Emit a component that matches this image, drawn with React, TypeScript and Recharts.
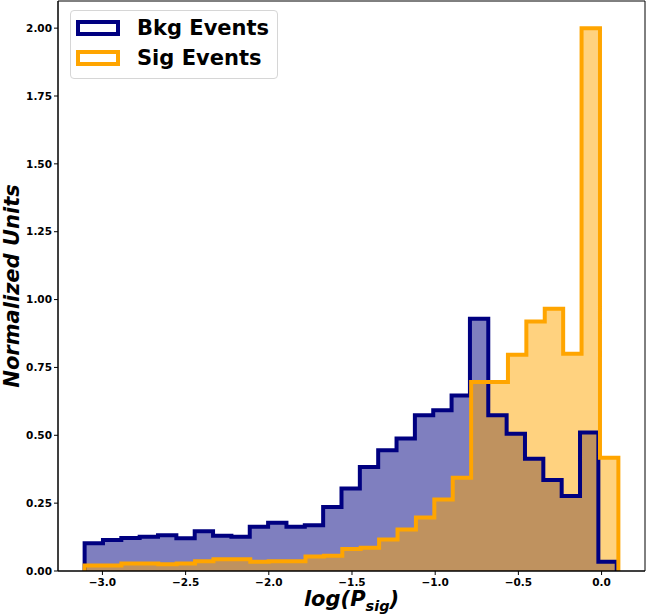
import React from 'react';
import {
  ComposedChart, Area, XAxis, YAxis, Legend, ReferenceArea,
} from 'recharts';

// histogram bin heights (29 bins each)
const BKG_VALUES = [
  0.102, 0.114, 0.122, 0.126, 0.132, 0.121, 0.146, 0.13, 0.126, 0.163,
  0.178, 0.163, 0.169, 0.236, 0.304, 0.383, 0.445, 0.488, 0.574, 0.592,
  0.647, 0.929, 0.574, 0.506, 0.414, 0.335, 0.276, 0.51, 0.034,
];
const SIG_VALUES = [
  0.02, 0.02, 0.028, 0.028, 0.025, 0.028, 0.036, 0.043, 0.043, 0.034,
  0.036, 0.036, 0.053, 0.056, 0.081, 0.086, 0.116, 0.153, 0.197, 0.263,
  0.344, 0.696, 0.696, 0.797, 0.919, 0.966, 0.8, 2.0, 0.417,
];
const BKG_RANGE = [-3.107, 0.091];
const SIG_RANGE = [-3.107, 0.101];

const X_TICKS = [-3, -2.5, -2, -1.5, -1, -0.5, 0];
const Y_TICKS = [0, 0.25, 0.5, 0.75, 1, 1.25, 1.5, 1.75, 2];
const X_DOMAIN = [-3.267, 0.261];
const Y_DOMAIN = [0, 2.1];

const SERIES = [
  { name: 'Bkg Events', color: '#000080' },
  { name: 'Sig Events', color: '#FFA500' },
];

const FONT = '"DejaVu Sans", sans-serif';

// turn bin heights into a closed step outline (drops to 0 at both ends)
function toSteps(values: number[], range: number[]) {
  const [lo, hi] = range;
  const w = (hi - lo) / values.length;
  const pts: { x: number; y: number }[] = [{ x: lo, y: 0 }];
  values.forEach((v, i) => pts.push({ x: lo + i * w, y: v }));
  pts.push({ x: hi, y: values[values.length - 1] });
  pts.push({ x: hi, y: 0 });
  return pts;
}

const bkgSteps = toSteps(BKG_VALUES, BKG_RANGE);
const sigSteps = toSteps(SIG_VALUES, SIG_RANGE);

const fmtX = (v: number) => v.toFixed(1).replace('-', '\u2212');
const fmtY = (v: number) => v.toFixed(2);

const tickStyle = { fontFamily: FONT, fontWeight: 'bold', fontSize: 10.5, fill: '#000' };

const XLabel = (props: any) => {
  const { viewBox } = props;
  const cx = viewBox.x + viewBox.width / 2;
  return (
    <text x={cx} y={606} textAnchor="middle" fontFamily={FONT} fontWeight="bold"
      fontStyle="italic" fontSize={21} fill="#000">
      log(P<tspan dy={5} fontSize={14.5}>sig</tspan><tspan dy={-5}>)</tspan>
    </text>
  );
};

const YLabel = () => (
  <text x={19} y={286} transform="rotate(-90 19 286)" textAnchor="middle" fontFamily={FONT}
    fontWeight="bold" fontStyle="italic" fontSize={21} fill="#000">
    Normalized Units
  </text>
);

const LegendBox = () => (
  <div style={{
    border: '1px solid #d6d6d6', borderRadius: 4, background: 'rgba(255,255,255,0.8)',
    padding: '2px 8px 5px 5px', fontFamily: FONT, fontWeight: 'bold', fontSize: 21,
  }}>
    {SERIES.map((s) => (
      <div key={s.name} style={{ display: 'flex', alignItems: 'center', height: 30 }}>
        <span style={{
          display: 'inline-block', boxSizing: 'border-box', width: 44, height: 16,
          border: `4px solid ${s.color}`, background: '#fff',
        }} />
        <span style={{ marginLeft: 17, color: '#000', whiteSpace: 'nowrap' }}>{s.name}</span>
      </div>
    ))}
  </div>
);

const App: React.FC = () => {
  return (
    <div style={{ position: 'absolute', left: 0, top: 0, background: '#fff' }}>
      <ComposedChart width={646} height={616} margin={{ top: 1, right: 1, left: 0, bottom: 0 }}>
        <XAxis
          dataKey="x" type="number" domain={X_DOMAIN} ticks={X_TICKS} tickFormatter={fmtX}
          allowDataOverflow height={45} tick={tickStyle} tickSize={4} tickMargin={4}
          stroke="#000" label={{ content: XLabel }}
        />
        <YAxis
          type="number" domain={Y_DOMAIN} ticks={Y_TICKS} tickFormatter={fmtY}
          width={58} tick={tickStyle} tickSize={4} tickMargin={2}
          stroke="#000" label={{ content: YLabel }}
        />

        {/* fills first, outlines on top */}
        <Area data={bkgSteps} dataKey="y" type="stepAfter" stroke="none"
          fill={SERIES[0].color} fillOpacity={0.5} isAnimationActive={false} />
        <Area data={sigSteps} dataKey="y" type="stepAfter" stroke="none"
          fill={SERIES[1].color} fillOpacity={0.5} isAnimationActive={false} />
        <Area data={bkgSteps} dataKey="y" type="stepAfter" stroke={SERIES[0].color}
          strokeWidth={4} fill="none" strokeLinejoin="miter" isAnimationActive={false} />
        <Area data={sigSteps} dataKey="y" type="stepAfter" stroke={SERIES[1].color}
          strokeWidth={4} fill="none" strokeLinejoin="miter" isAnimationActive={false} />

        {/* axes frame (top and right spines) */}
        <ReferenceArea x1={X_DOMAIN[0]} x2={X_DOMAIN[1]} y1={Y_DOMAIN[0]} y2={Y_DOMAIN[1]}
          fill="none" fillOpacity={0} stroke="#000" strokeWidth={1} ifOverflow="visible" />

        <Legend layout="vertical" align="center" verticalAlign="middle"
          content={LegendBox}
          wrapperStyle={{ left: 70, top: 10, width: 'auto', height: 'auto' }} />
      </ComposedChart>
    </div>
  );
};

export default App;
